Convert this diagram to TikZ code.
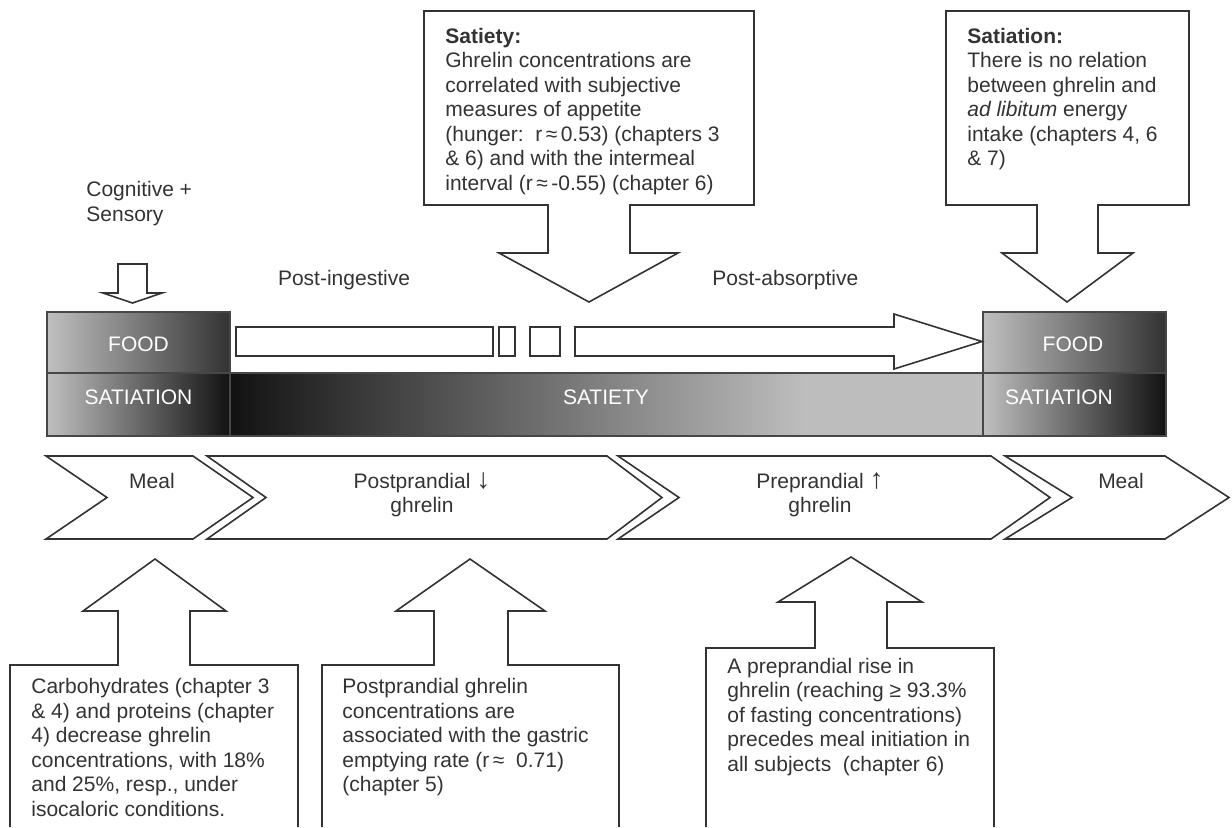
\documentclass[tikz,border=0pt]{standalone}
\usepackage{fontspec}
\setmainfont{Liberation Sans}
\pgfdeclarehorizontalshading{satietysh}{100bp}{rgb(0bp)=(0.07,0.07,0.07); rgb(25bp)=(0.07,0.07,0.07); rgb(63bp)=(0.74,0.74,0.74); rgb(100bp)=(0.74,0.74,0.74)}
\newcommand{\bigarr}[1]{{\fontsize{14}{12}\selectfont #1}}
\begin{document}
\begin{tikzpicture}[x=0.5pt,y=-0.5pt, line join=miter,
  outl/.style={draw=black!80, line width=0.8pt},
  bar/.style={draw=black!72, line width=0.9pt},
  txt/.style={font=\fontsize{10.5}{12.25}\selectfont, text=black!80, inner sep=0pt, align=left, anchor=north west},
  lbl/.style={font=\fontsize{10.5}{12.25}\selectfont, text=black!80, inner sep=0pt, align=center},
  wtxt/.style={font=\fontsize{10.5}{12.25}\selectfont, text=white, inner sep=0pt}]
\useasboundingbox (0,0) rectangle (1232,827);

% top callouts
\draw[outl, fill=white] (424,11) -- (754,11) -- (754,205) -- (630,205) -- (630,253) -- (678,253) -- (589,302) -- (499,253) -- (548,253) -- (548,205) -- (424,205) -- cycle;
\node[txt] (satiety) at (445,27.5) {\textbf{Satiety:}\\Ghrelin concentrations are\\correlated with subjective\\measures of appetite\\(hunger:\ \ r\,≈\,0.53) (chapters 3\\\& 6) and with the intermeal\\interval (r\,≈\,-0.55) (chapter 6)};

\draw[outl, fill=white] (946,11) -- (1189,11) -- (1189,205) -- (1098,205) -- (1098,253) -- (1133,253) -- (1067,302) -- (1002,253) -- (1037,253) -- (1037,205) -- (946,205) -- cycle;
\node[txt] (satiation) at (967,27.5) {\textbf{Satiation:}\\There is no relation\\between ghrelin and\\\textit{ad libitum} energy\\intake (chapters 4, 6\\\& 7)};

% cognitive
\node[txt] (cog) at (86,181) {Cognitive +\\Sensory};
\draw[outl, fill=white] (118,264) -- (147,264) -- (147,293) -- (162,293) -- (132.5,303) -- (103,293) -- (118,293) -- cycle;

\node[lbl, anchor=center] (postin) at (344,280) {Post-ingestive};
\node[lbl, anchor=west] (postab) at (712,280) {Post-absorptive};

% bars
\shade[bar, left color=black!25, right color=black!80] (47,312) rectangle (230,373);
\shade[bar, left color=black!25, right color=black!93] (47,373) rectangle (230,436);
\shade[bar, shading=satietysh] (230,373) rectangle (983,436);
\shade[bar, left color=black!25, right color=black!80] (983,312) rectangle (1166,373);
\shade[bar, left color=black!25, right color=black!93] (983,373) rectangle (1166,436);
\node[wtxt] (food1) at (138.5,344) {FOOD};
\node[wtxt] (sat1) at (138.5,397) {SATIATION};
\node[wtxt] (sty) at (606,397) {SATIETY};
\node[wtxt] (food2) at (1073,344) {FOOD};
\node[wtxt] (sat2) at (1059,397) {SATIATION};

% horizontal arrow
\draw[outl, fill=white] (236,327) rectangle (493,356);
\draw[outl, fill=white] (499,327) rectangle (515,356);
\draw[outl, fill=white] (530,327) rectangle (560,356);
\draw[outl, fill=white] (575,327) -- (894,327) -- (894,314) -- (982,341.5) -- (894,369) -- (894,356) -- (575,356) -- cycle;

% chevrons
\draw[outl] (46,456) -- (193,456) -- (253,497.5) -- (193,539) -- (46,539) -- (107,497.5) -- cycle;
\draw[outl] (207,456) -- (607,456) -- (662,497.5) -- (607,539) -- (207,539) -- (266,497.5) -- cycle;
\draw[outl] (618,456) -- (991,456) -- (1050,497.5) -- (991,539) -- (618,539) -- (679,497.5) -- cycle;
\draw[outl] (1005,456) -- (1165,456) -- (1229,497.5) -- (1165,539) -- (1005,539) -- (1072,497.5) -- cycle;
\node[lbl, anchor=center] (meal1) at (152,481) {Meal};
\node[lbl, anchor=north] (postp) at (422,472) {Postprandial \bigarr{↓}\\ghrelin};
\node[lbl, anchor=north] (prep) at (820,472) {Preprandial \bigarr{↑}\\ghrelin};
\node[lbl, anchor=center] (meal2) at (1121,481) {Meal};

% bottom callouts
\draw[outl] (10,827) -- (10,665) -- (118,665) -- (118,611) -- (83,611) -- (155,559) -- (226,611) -- (190,611) -- (190,665) -- (298,665) -- (298,827);
\node[txt] (carb) at (31,678) {Carbohydrates (chapter 3\\\& 4) and proteins (chapter\\4) decrease ghrelin\\concentrations, with 18\%\\and 25\%, resp., under\\isocaloric conditions.};

\draw[outl] (322,827) -- (322,665) -- (434,665) -- (434,611) -- (396,611) -- (470,559) -- (545,611) -- (508,611) -- (508,665) -- (619,665) -- (619,827);
\node[txt] (gast) at (342,678) {Postprandial ghrelin\\concentrations are\\associated with the gastric\\emptying rate (r\,≈\ \ 0.71)\\(chapter 5)};

\draw[outl] (706,827) -- (706,648) -- (815,648) -- (815,602) -- (778,602) -- (851,557) -- (922,602) -- (887,602) -- (887,648) -- (994,648) -- (994,827);
\node[txt] (rise) at (727,657.5) {A preprandial rise in\\ghrelin (reaching ≥ 93.3\%\\of fasting concentrations)\\precedes meal initiation in\\all subjects\ \ (chapter 6)};
\end{tikzpicture}
\end{document}
